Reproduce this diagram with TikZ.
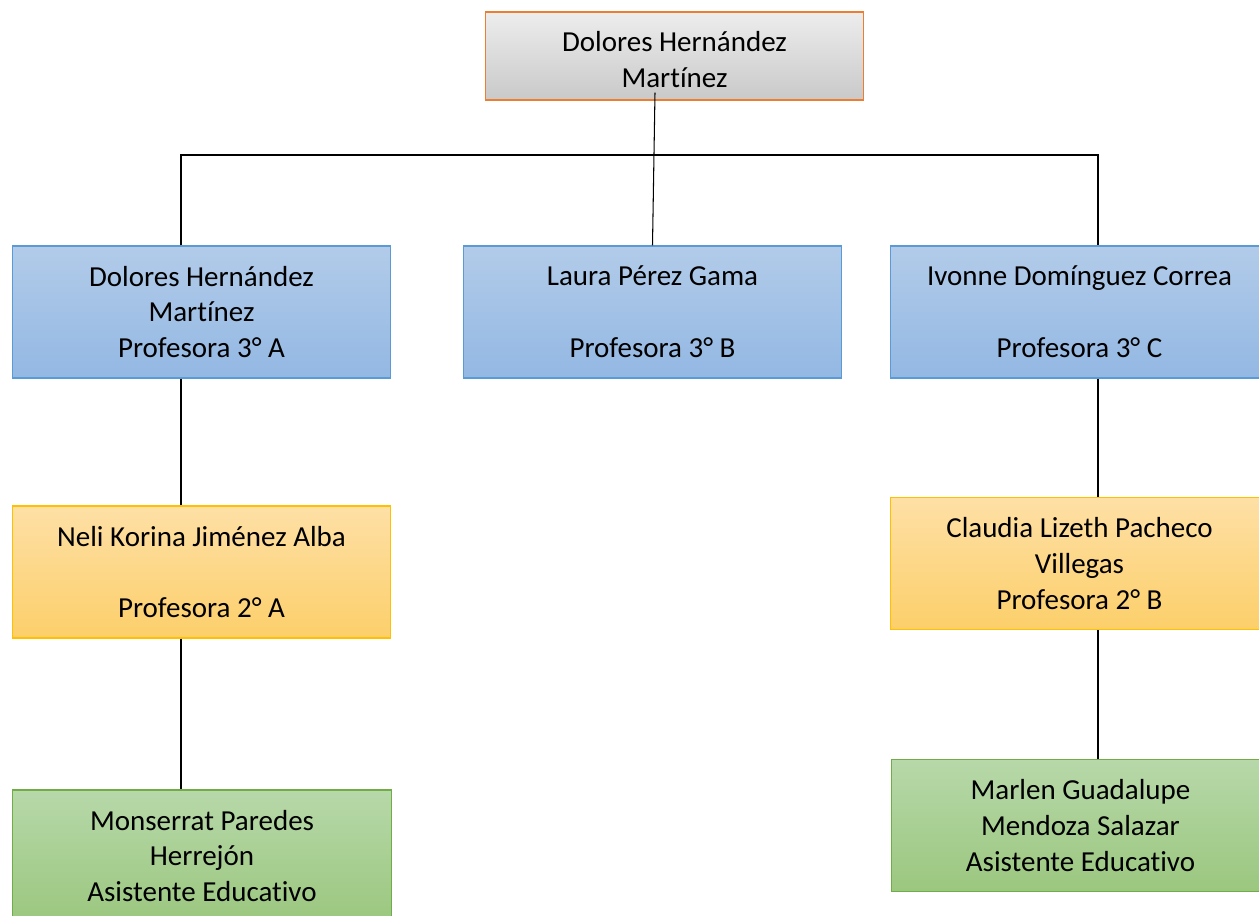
\documentclass[tikz,border=0pt]{standalone}
\usepackage{fontspec}
\setmainfont[Ligatures={NoCommon}]{Carlito}
\usepackage{tikz}
\usepackage{xcolor}

\definecolor{grisArriba}{HTML}{EDEDED}
\definecolor{grisAbajo}{HTML}{C9C9C9}
\definecolor{bordeNaranja}{HTML}{ED7D31}
\definecolor{azulArriba}{HTML}{B2CBE9}
\definecolor{azulAbajo}{HTML}{93B8E3}
\definecolor{bordeAzul}{HTML}{5B9BD5}
\definecolor{amarArriba}{HTML}{FEE0A6}
\definecolor{amarAbajo}{HTML}{FCCF6A}
\definecolor{bordeAmar}{HTML}{FFC000}
\definecolor{verdeArriba}{HTML}{B7D8A9}
\definecolor{verdeAbajo}{HTML}{9BC77F}
\definecolor{bordeVerde}{HTML}{70AD47}

\begin{document}
\begin{tikzpicture}[x=0.02cm, y=-0.02cm,
    caja/.style={rectangle, line width=0.6pt, text=black, align=center, inner sep=0pt,
      minimum width=7.58cm, minimum height=2.64cm, font=\fontsize{16.5}{20.4}\selectfont},
    directora/.style={caja, draw=bordeNaranja, top color=grisArriba, bottom color=grisAbajo, minimum height=1.76cm},
    tercero/.style={caja, draw=bordeAzul, top color=azulArriba, bottom color=azulAbajo},
    segundo/.style={caja, draw=bordeAmar, top color=amarArriba, bottom color=amarAbajo},
    asistente/.style={caja, draw=bordeVerde, top color=verdeArriba, bottom color=verdeAbajo},
    linea/.style={draw=black, line width=0.6pt}]
    \useasboundingbox (0,0) rectangle (1259,916);
    \clip (0,0) rectangle (1259,916);

    \node[directora] (dir) at (674.5, 56)
      {\raisebox{0pt}[\dimexpr\height+6.8pt][\depth]{\begin{tabular}{@{}c@{}}Dolores Hernández\\Martínez\end{tabular}}};

    \node[tercero] (tA) at (201.5, 312) {Dolores Hernández\\Martínez\\Profesora 3° A};
    \node[tercero] (tB) at (652.5, 312) {Laura Pérez Gama\\[20.4pt]Profesora 3° B};
    \node[tercero] (tC) at (1079.5, 312) {Ivonne Domínguez Correa\\[20.4pt]Profesora 3° C};

    \node[segundo] (sA) at (201.5, 572) {Neli Korina Jiménez Alba\\[20.4pt]Profesora 2° A};
    \node[segundo] (sB) at (1079.5, 563.5) {Claudia Lizeth Pacheco\\Villegas\\Profesora 2° B};

    \node[asistente] (aA) at (202, 856) {Monserrat Paredes\\Herrejón\\Asistente Educativo};
    \node[asistente] (aB) at (1080.5, 825.5) {Marlen Guadalupe\\Mendoza Salazar\\Asistente Educativo};

    % conectores
    \coordinate (izq) at ([xshift=-0.41cm]tA.north);
    \coordinate (der) at ([xshift=0.37cm]tC.north);
    \coordinate (bus) at (0,155);

    \draw[linea] ([xshift=-0.39cm, yshift=0.16cm]dir.south) -- (tB.north);
    \draw[linea] (izq) |- (bus -| der) -- (der);

    \draw[linea] (izq |- tA.south) -- (izq |- sA.north);
    \draw[linea] (izq |- sA.south) -- (izq |- aA.north);
    \draw[linea] (der |- tC.south) -- (der |- sB.north);
    \draw[linea] (der |- sB.south) -- (der |- aB.north);
\end{tikzpicture}
\end{document}
